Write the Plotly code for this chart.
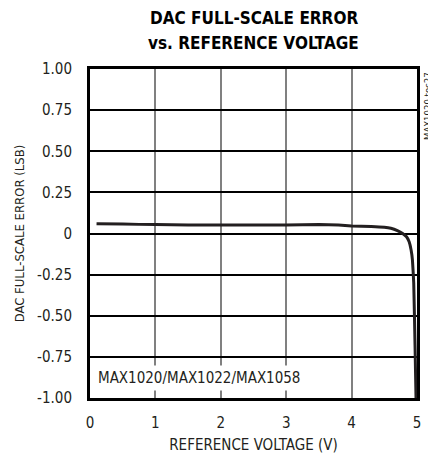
import plotly.graph_objects as go

x_vals = [0.1, 0.5, 1.0, 1.5, 2.0, 2.5, 3.0, 3.5, 3.8, 4.0, 4.3, 4.5, 4.6, 4.7, 4.78, 4.84, 4.88, 4.91, 4.93, 4.95, 4.97, 4.985]
y_vals = [0.06, 0.057, 0.054, 0.052, 0.052, 0.051, 0.052, 0.055, 0.052, 0.046, 0.043, 0.038, 0.032, 0.018, 0.0, -0.02, -0.05, -0.1, -0.16, -0.3, -0.68, -1.0]

x_ticks = [0, 1, 2, 3, 4, 5]
y_ticks = [1.0, 0.75, 0.5, 0.25, 0, -0.25, -0.5, -0.75, -1.0]
y_tick_labels = ["1.00", "0.75", "0.50", "0.25", "0", "-0.25", "-0.50", "-0.75", "-1.00"]

FONT = "DejaVu Sans Condensed, Liberation Sans Narrow, Arial Narrow, sans-serif"

fig = go.Figure()
fig.add_trace(go.Scatter(x=x_vals, y=y_vals, mode="lines",
                         line=dict(color="#231f20", width=3, shape="spline", smoothing=0.3),
                         showlegend=False, hoverinfo="skip"))

fig.update_layout(
    width=428, height=446,
    margin=dict(l=82, r=19, t=61, b=56, autoexpand=False),
    paper_bgcolor="white", plot_bgcolor="white",
    font=dict(family=FONT, size=13, color="#231f20"),
    xaxis=dict(range=[0, 5], tickvals=x_ticks, showgrid=True, gridcolor="#808080", gridwidth=1.5,
               zeroline=False, showline=True, linecolor="#000000", linewidth=3, mirror=True,
               ticks="", automargin=False, tickfont=dict(size=15), ticklabelstandoff=9,
               title=dict(text="REFERENCE VOLTAGE (V)", font=dict(size=15), standoff=12)),
    yaxis=dict(range=[-1, 1], tickvals=y_ticks, ticktext=y_tick_labels, showgrid=True,
               gridcolor="#000000", gridwidth=1.5, zeroline=False, showline=True,
               linecolor="#000000", linewidth=3, mirror=True, ticks="", automargin=False,
               tickfont=dict(size=15), ticklabelstandoff=12,
               title=dict(text="DAC FULL-SCALE ERROR (LSB)", font=dict(size=13), standoff=10)),
)

fig.add_annotation(text="<b>DAC FULL-SCALE ERROR</b>", xref="paper", yref="paper",
                   x=0.5, y=1.0, yshift=51, xanchor="center", yanchor="middle", showarrow=False,
                   font=dict(size=17, color="#000000"))
fig.add_annotation(text="<b>vs. REFERENCE VOLTAGE</b>", xref="paper", yref="paper",
                   x=0.5, y=1.0, yshift=26, xanchor="center", yanchor="middle", showarrow=False,
                   font=dict(size=17, color="#000000"))
fig.add_annotation(text="MAX1020/MAX1022/MAX1058", xref="paper", yref="paper",
                   x=0.0, xshift=4, y=0.0, yshift=7, xanchor="left", yanchor="bottom", showarrow=False,
                   bgcolor="white", borderpad=3, font=dict(size=15, color="#231f20"))
fig.add_annotation(text="MAX1020 toc27", xref="paper", yref="paper",
                   x=1.0, xshift=10, y=1.0, yshift=-1, xanchor="center", yanchor="top", textangle=-90,
                   showarrow=False, font=dict(size=9.5, color="#231f20"))

fig.write_html("out.html")
